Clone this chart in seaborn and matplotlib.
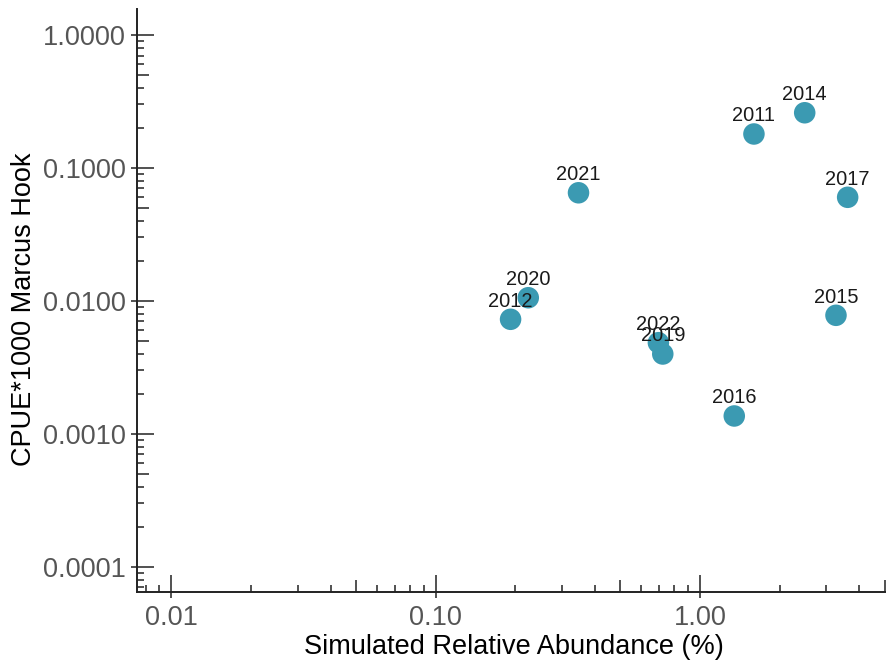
import matplotlib
matplotlib.use("Agg")
import matplotlib.pyplot as plt
import matplotlib.ticker as mticker
import numpy as np
import pandas as pd
import seaborn as sns

# Survey years, simulated abundance (%) and observed CPUE at Marcus Hook
years = ["2011", "2012", "2014", "2015", "2016", "2017", "2019", "2020", "2021", "2022"]
abundance = [1.60, 0.192, 2.49, 3.27, 1.348, 3.62, 0.723, 0.224, 0.347, 0.696]
cpue = [0.180, 0.00726, 0.260, 0.00778, 0.00136, 0.0601, 0.00398, 0.01055, 0.0650, 0.00484]

x_ticks = [0.01, 0.1, 1.0]
y_ticks = [0.0001, 0.001, 0.01, 0.1, 1.0]

df = pd.DataFrame({"year": years, "abundance": abundance, "cpue": cpue})

sns.set_style("ticks")
plt.rcParams["font.family"] = ["Liberation Sans", "DejaVu Sans"]

fig = plt.figure(figsize=(8.87, 6.61), dpi=100)
ax = fig.add_axes([137 / 887, 1 - 592.3 / 661, 750 / 887, 583.0 / 661])

point_color = "#3b9ab2"
sns.scatterplot(data=df, x="abundance", y="cpue", ax=ax, s=240,
                color=point_color, edgecolor="none", linewidth=0, zorder=3)

ax.set_xscale("log")
ax.set_yscale("log")
ax.set_xlim(0.00741, 5.10)
ax.set_ylim(6.41e-5, 1.561)

# year labels just above each point
for yr, xv, yv in zip(df["year"], df["abundance"], df["cpue"]):
    ax.annotate(yr, (xv, yv), xytext=(0, 9), textcoords="offset points",
                ha="center", va="baseline", fontsize=14.4, color="#1a1a1a",
                zorder=4)

# spines
for side in ("top", "right"):
    ax.spines[side].set_visible(False)
for side in ("left", "bottom"):
    ax.spines[side].set_linewidth(1.4)
    ax.spines[side].set_color("#222222")

tick_color = "#222222"
label_color = "#555555"

ax.xaxis.set_major_locator(mticker.FixedLocator(x_ticks))
ax.yaxis.set_major_locator(mticker.FixedLocator(y_ticks))
ax.xaxis.set_major_formatter(mticker.FuncFormatter(lambda v, p: f"{v:.2f}"))
ax.yaxis.set_major_formatter(mticker.FuncFormatter(lambda v, p: f"{v:.4f}"))
ax.xaxis.set_minor_locator(mticker.LogLocator(base=10, subs=(2, 3, 4, 6, 7, 8, 9), numticks=30))
ax.yaxis.set_minor_locator(mticker.LogLocator(base=10, subs=(2, 3, 4, 6, 7, 8, 9), numticks=30))
ax.xaxis.set_minor_formatter(mticker.NullFormatter())
ax.yaxis.set_minor_formatter(mticker.NullFormatter())

ax.tick_params(which="major", direction="in", length=12, width=1.1,
               color=tick_color, labelsize=19.5, labelcolor=label_color)
ax.tick_params(axis="x", which="major", pad=9.4)
ax.tick_params(axis="y", which="major", pad=7.9)
ax.tick_params(which="minor", direction="in", length=4.8, width=1.1, color=tick_color)

# extra tick rows: outward stubs at decades, mid-length ticks at the 5s
for loc, axis_name in (("bottom", "x"), ("left", "y")):
    if axis_name == "x":
        sec = ax.secondary_xaxis(loc)
        sax = sec.xaxis
    else:
        sec = ax.secondary_yaxis(loc)
        sax = sec.yaxis
    for s in sec.spines.values():
        s.set_visible(False)
    sax.set_major_locator(mticker.FixedLocator(x_ticks if axis_name == "x" else y_ticks))
    sax.set_minor_locator(mticker.LogLocator(base=10, subs=(5,), numticks=30))
    sax.set_major_formatter(mticker.NullFormatter())
    sax.set_minor_formatter(mticker.NullFormatter())
    sec.tick_params(which="major", direction="out", length=4.2, width=1.1, color=tick_color)
    sec.tick_params(which="minor", direction="in", length=8.6, width=1.1, color=tick_color)

ax.set_xlabel("Simulated Relative Abundance (%)", fontsize=19.5, color="black", va="top")
ax.set_ylabel("CPUE*1000 Marcus Hook", fontsize=19.5, color="black")
ax.xaxis.set_label_coords(0.503, (592.3 - 634.0) / 583.0)
ax.yaxis.set_label_coords((37.4 - 137) / 750, (592.3 - 309) / 583.0)

fig.savefig("out.png", dpi=100)
